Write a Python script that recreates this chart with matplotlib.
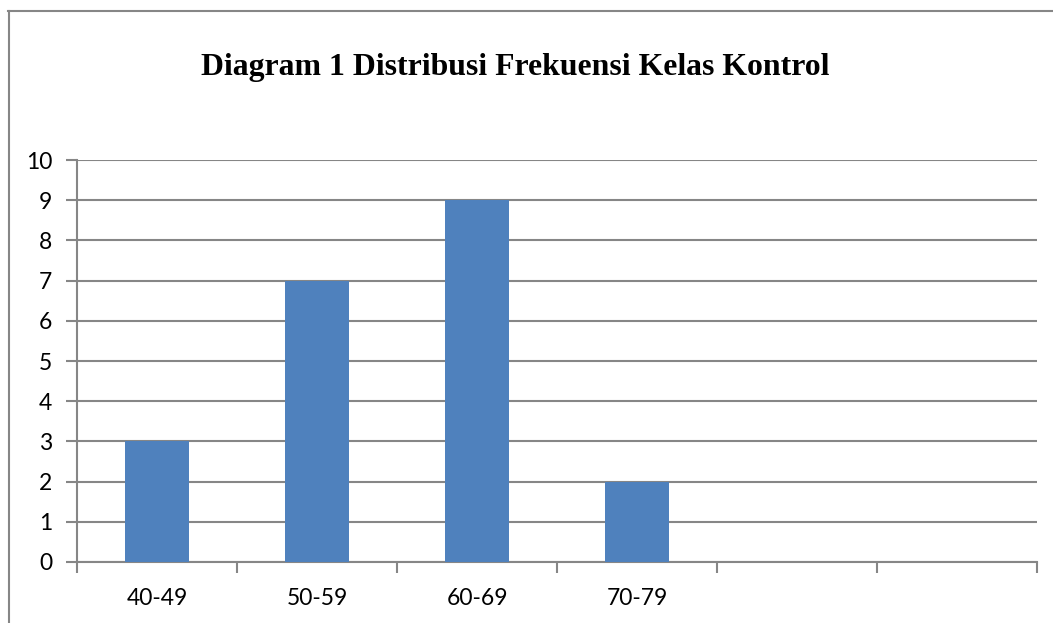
import numpy as np
import matplotlib.pyplot as plt
from matplotlib.lines import Line2D

# Data
kelas = ['40-49', '50-59', '60-69', '70-79', '', '']
frekuensi = [3, 7, 9, 2, 0, 0]
yticks = list(range(0, 11))

BAR = '#4F81BD'
GRID = '#868686'


def main() -> None:
    fig = plt.figure(figsize=(10.53, 6.23), dpi=100)
    ax = fig.add_axes([77 / 1053, 61 / 623, 960 / 1053, 402 / 623])

    x = np.arange(len(kelas))
    ax.bar(x[:4], frekuensi[:4], width=0.4, color=BAR, zorder=3)

    ax.set_xlim(-0.5, len(kelas) - 0.5)
    ax.set_ylim(0, 10)
    ax.set_yticks(yticks)
    ax.yaxis.grid(True, color=GRID, lw=1.5, zorder=0)
    ax.set_axisbelow(True)

    # category labels between boundary ticks
    ax.set_xticks(np.arange(-0.5, len(kelas), 1))
    ax.set_xticklabels([])
    ax.set_xticks(x, minor=True)
    ax.set_xticklabels(kelas, minor=True)
    ax.tick_params(axis='x', which='minor', length=0, pad=19, labelsize=16.5)
    ax.tick_params(axis='x', which='major', length=8, width=1.5, color=GRID)
    ax.tick_params(axis='y', length=8, width=1.5, color=GRID, pad=10,
                   labelsize=16.5)

    for s in ['top', 'right']:
        ax.spines[s].set_visible(False)
    for s in ['left', 'bottom']:
        ax.spines[s].set_color(GRID)
        ax.spines[s].set_linewidth(1.5)

    for lab in ax.get_xticklabels(minor=True) + ax.get_yticklabels():
        lab.set_fontfamily('Lato')

    fig.text(515 / 1053, 1 - 68 / 623,
             'Diagram 1 Distribusi Frekuensi Kelas Kontrol',
             ha='center', va='center', fontsize=22.9, fontweight='bold',
             family='Liberation Serif')

    # outer chart border (left and top visible)
    fig.add_artist(Line2D([8.5 / 1053, 8.5 / 1053], [0, 1 - 11 / 623],
                          color=GRID, lw=1.5))
    fig.add_artist(Line2D([8 / 1053, 1], [1 - 11 / 623, 1 - 11 / 623],
                          color=GRID, lw=1.5))

    fig.savefig('out.png', dpi=100)


if __name__ == '__main__':
    main()
